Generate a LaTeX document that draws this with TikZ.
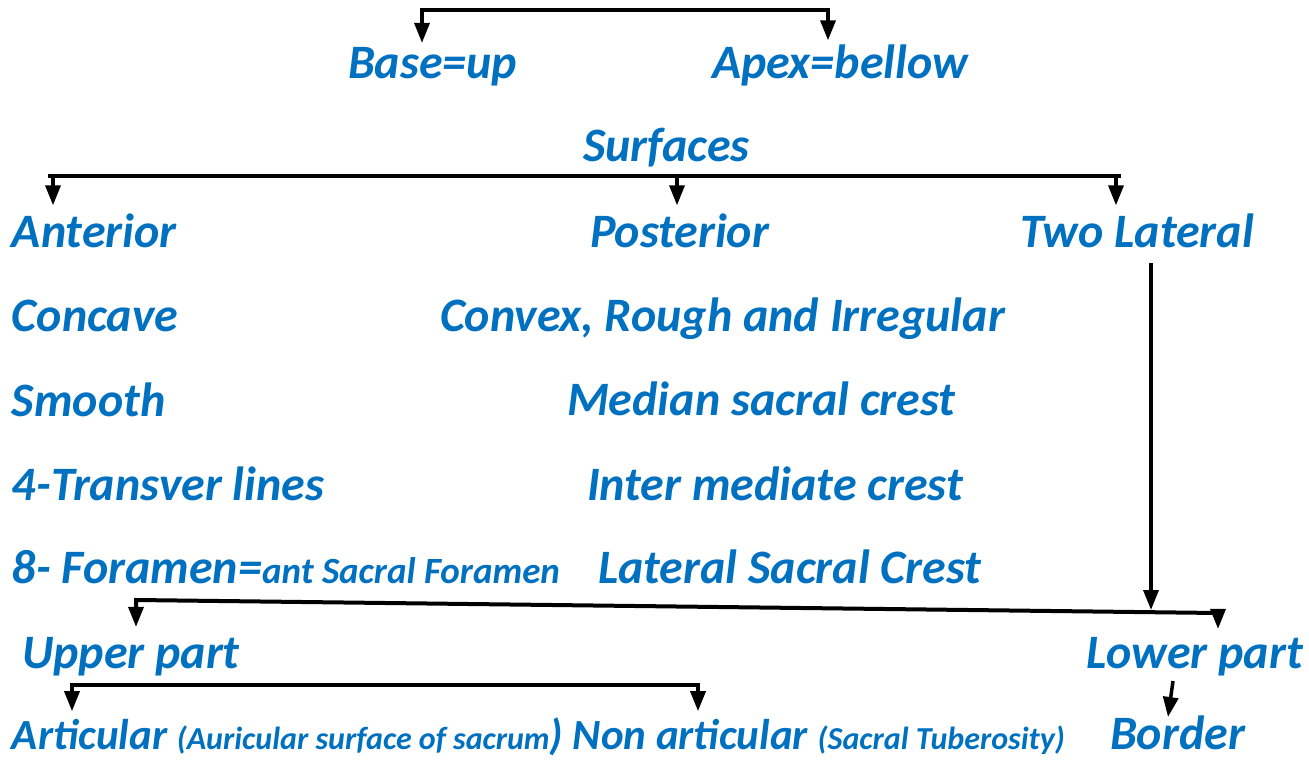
\documentclass[tikz,border=0pt]{standalone}
\usepackage{fontspec}
\setmainfont{Carlito}
\usetikzlibrary{arrows.meta}
\definecolor{txtblue}{RGB}{0,112,192}
\newcommand{\bigsz}{\fontsize{48}{52}\selectfont}
\newcommand{\midsz}{\fontsize{43}{48}\selectfont}
\newcommand{\smallsz}{\fontsize{37}{40}\selectfont}
\newcommand{\tinysz}{\fontsize{32}{36}\selectfont}
\tikzset{
  lbl/.style={anchor=base west, inner sep=0pt, outer sep=0pt, text=txtblue,
    font=\bfseries\itshape\bigsz},
  conn/.style={draw=black, line width=4pt},
  arr/.style={draw=black, line width=3.5pt, -{Triangle[length=20pt,width=15pt]}},
}
\begin{document}
\begin{tikzpicture}[x=1pt,y=-1pt]
\useasboundingbox (0,0) rectangle (1309,760);
% top level
\node[lbl] (base) at (348,78) {Base=up};
\node[lbl] (apex) at (712,78) {Apex=bellow};
\coordinate (tL) at (422,10);
\coordinate (tR) at (828,10);
\draw[conn] ([yshift=-10pt]tL) -- (tL) -- (tR) -- ([yshift=-10pt]tR);
\draw[arr] (tL) -- ([yshift=4pt]tL |- base.north);
\draw[arr] (tR) -- ([yshift=4pt]tR |- apex.north);
% surfaces
\node[lbl] (surf) at (583,161) {Surfaces};
\node[lbl] (ant) at (12,247) {Anterior};
\node[lbl] (post) at (590,247) {Posterior};
\node[lbl] (lat) at (1020,247) {Two Lateral};
\coordinate (sL) at (53,176);
\coordinate (sM) at (677,176);
\coordinate (sR) at (1116,176);
\draw[conn] ([xshift=-5pt]sL) -- ([xshift=5pt]sR);
\draw[arr] (sL) -- ([yshift=8pt]sL |- ant.north);
\draw[arr] (sM) -- ([yshift=8pt]sM |- post.north);
\draw[arr] (sR) -- ([yshift=8pt]sR |- lat.north);
% anterior column
\node[lbl] (conc) at (12,331) {Concave};
\node[lbl] (smooth) at (12,416) {Smooth};
\node[lbl] (trans) at (12,500) {4-Transver lines};
\node[lbl] (foram) at (12,583) {8- Foramen={\smallsz ant Sacral Foramen}};
% posterior column
\node[lbl] (conv) at (440,331) {Convex, Rough and Irregular};
\node[lbl] (med) at (567,415) {Median sacral crest};
\node[lbl] (inter) at (587,500) {Inter mediate crest};
\node[lbl] (lsc) at (598,583) {Lateral Sacral Crest};
% lateral split
\coordinate (jn) at (1151,610);
\coordinate (pL) at (136,600);
\coordinate (pR) at (1218,613);
\node[lbl] (upper) at (22,668) {Upper part};
\node[lbl] (lower) at (1086,668) {Lower part};
\draw[arr] ([yshift=-16pt]jn |- lat.south) -- (jn);
\draw[conn] ([yshift=-10pt]pL) -- (pL) -- (pR) -- ([yshift=-10pt]pR);
\draw[arr] ([yshift=-8pt]pL) -- ([yshift=10pt]pL |- upper.north);
\draw[arr] ([yshift=-8pt]pR) -- ([yshift=8pt]pR |- lower.north);
% upper part split
\node[lbl, font=\bfseries\itshape\midsz] (artic) at (12,749) {Articular {\tinysz (Auricular surface of sacrum}) Non articular {\tinysz (Sacral Tuberosity)}};
\node[lbl] (border) at (1110,749) {Border};
\coordinate (uL) at (72,685);
\coordinate (uR) at (698,685);
\draw[conn] ([yshift=-8pt]uL) -- (uL) -- (uR) -- ([yshift=-8pt]uR);
\draw[arr] ([yshift=-6pt]uL) -- ([yshift=6pt]uL |- artic.north);
\draw[arr] ([yshift=-6pt]uR) -- ([yshift=6pt]uR |- artic.north);
\coordinate (lb) at (1173,681);
\draw[arr] (lb) -- ([xshift=58pt,yshift=32pt]border.base west);
\end{tikzpicture}
\end{document}
